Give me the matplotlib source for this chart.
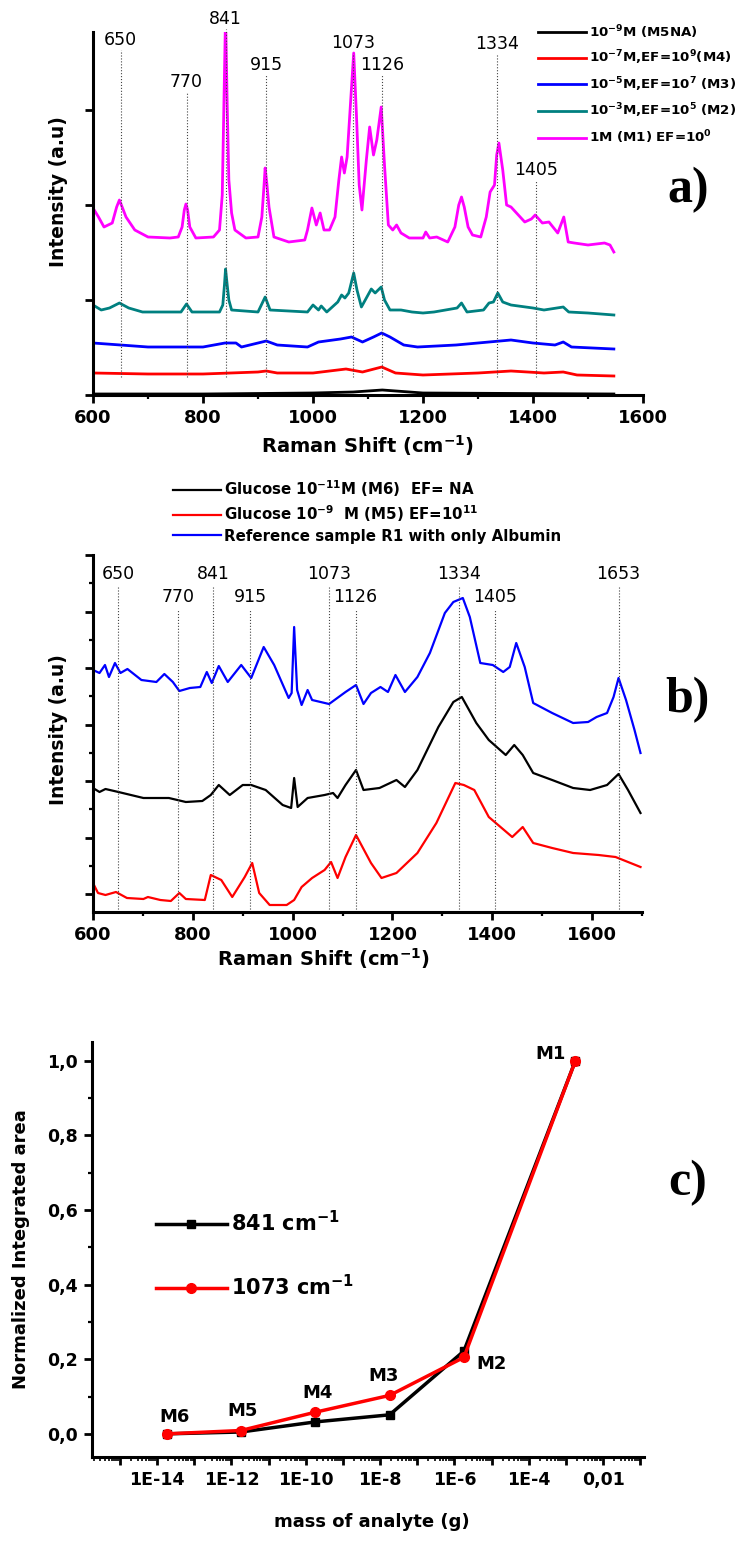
import numpy as np
import matplotlib
matplotlib.use("Agg")
import matplotlib.pyplot as plt
from matplotlib.ticker import MultipleLocator, LogLocator, FuncFormatter, NullFormatter

plt.rcParams["font.family"] = ["DejaVu Sans"]
plt.rcParams["mathtext.fontset"] = "dejavusans"
plt.rcParams["mathtext.default"] = "bf"

# ---------------- panel a) spectra (a.u.) ----------------
m1_shift = [600, 610, 620, 635, 643, 648, 653, 660, 676, 700, 740, 755, 762, 766, 769, 772, 776, 787, 819,
            830, 835, 838, 841, 844, 847, 852, 858, 878, 900, 907, 911, 913, 916, 920, 929, 956, 985, 990,
            998, 1006, 1013, 1020, 1030, 1040, 1047, 1052, 1057, 1062, 1068, 1074, 1079, 1084, 1089, 1097,
            1103, 1110, 1116, 1124, 1130, 1137, 1145, 1152, 1160, 1175, 1200, 1205, 1212, 1225, 1245, 1258,
            1265, 1270, 1275, 1282, 1290, 1305, 1315, 1322, 1330, 1334, 1338, 1345, 1352, 1360, 1370, 1385,
            1397, 1404, 1417, 1429, 1445, 1456, 1464, 1475, 1500, 1530, 1540, 1547]
m1_int = [187, 178, 168, 172, 188, 195, 188, 178, 165, 158, 157, 158, 168, 185, 191, 185, 168, 157, 158,
          165, 200, 290, 380, 290, 215, 182, 165, 157, 158, 178, 210, 227, 212, 188, 158, 153, 155, 165,
          187, 170, 182, 165, 165, 178, 215, 238, 222, 238, 290, 342, 280, 210, 185, 235,
          268, 240, 255, 288, 230, 170, 165, 170, 162, 157, 157, 163, 157, 158, 153, 168,
          190, 198, 188, 168, 160, 158, 178, 203, 210, 240, 252, 225, 190, 188, 182, 173,
          176, 180, 172, 173, 162, 178, 153, 152, 150, 152, 150, 143]

m2_shift = [600, 615, 630, 648, 665, 690, 760, 770, 780, 830, 836, 839, 841, 844, 847, 852, 900, 913, 922,
            990, 1000, 1010, 1015, 1025, 1045, 1052, 1058, 1065, 1074, 1080, 1088, 1100, 1106, 1113, 1124,
            1130, 1140, 1160, 1180, 1200, 1220, 1262, 1270, 1280, 1310, 1320, 1328, 1336, 1345, 1360, 1400,
            1420, 1455, 1465, 1500, 1547]
m2_int = [90, 85, 87, 92, 87, 83, 83, 91, 83, 83, 90, 110, 126, 110, 95, 85, 83, 98, 85,
          83, 90, 85, 89, 83, 93, 100, 97, 102, 122, 105, 88, 100, 106, 102, 108,
          95, 85, 85, 83, 82, 83, 87, 92, 83, 85, 92, 93, 102, 93, 90, 87,
          85, 88, 83, 82, 80]

m3_shift = [600, 650, 700, 800, 840, 860, 870, 900, 915, 935, 990, 1010, 1050, 1070, 1090, 1110, 1125,
            1140, 1165, 1190, 1260, 1320, 1360, 1400, 1440, 1455, 1470, 1547]
m3_int = [52, 50, 48, 48, 52, 52, 48, 52, 54, 50, 48, 53, 56, 58, 53, 58, 62,
          58, 50, 48, 50, 53, 55, 52, 50, 53, 48, 46]

m4_shift = [600, 700, 800, 900, 915, 935, 1000, 1060, 1090, 1125, 1150, 1200, 1300, 1360, 1420, 1455,
            1480, 1547]
m4_int = [22, 21, 21, 23, 24, 22, 22, 26, 23, 28, 22, 20, 22, 24, 22, 23, 20, 19]

m5_shift = [600, 800, 1000, 1073, 1126, 1200, 1547]
m5_int = [1, 1, 2, 3, 5, 2, 1]

legend_a = [r"10$^{-9}$M (M5NA)", r"10$^{-7}$M,EF=10$^{9}$(M4)", r"10$^{-5}$M,EF=10$^{7}$ (M3)",
            r"10$^{-3}$M,EF=10$^{5}$ (M2)", r"1M (M1) EF=10$^{0}$"]
peaks_a = [650, 770, 841, 915, 1073, 1126, 1334, 1405]
peaks_a_label_y = [355, 313, 376, 330, 352, 330, 351, 225]

# ---------------- panel b) spectra (a.u.) ----------------
r1_shift = [600, 613, 624, 632, 644, 655, 669, 697, 727, 743, 760, 773, 794, 815, 828, 838, 852, 870, 897,
            917, 942, 963, 992, 998, 1003, 1009, 1018, 1030, 1039, 1073, 1106, 1127, 1142, 1157, 1176, 1191,
            1206, 1225, 1250, 1275, 1305, 1322, 1341, 1355, 1376, 1401, 1422, 1435, 1448, 1465, 1482, 1520,
            1562, 1592, 1609, 1630, 1643, 1653, 1668, 1685, 1697]
r1_int = [224, 221, 229, 217, 231, 221, 225, 214, 212, 220, 212, 203, 206, 207, 222, 211, 228, 212, 229,
          216, 247, 229, 196, 201, 267, 204, 189, 204, 194, 190, 202, 209, 190, 201, 207, 202,
          219, 202, 217, 241, 281, 292, 296, 277, 231, 229, 222, 227, 251, 227, 191, 181,
          171, 172, 177, 181, 197, 216, 194, 164, 141]

m6_shift = [600, 613, 625, 651, 701, 752, 786, 819, 836, 852, 874, 900, 917, 946, 980, 997, 1003, 1010,
            1030, 1064, 1081, 1090, 1106, 1127, 1142, 1174, 1208, 1225, 1250, 1292, 1322, 1339, 1368, 1393,
            1427, 1444, 1461, 1482, 1520, 1562, 1596, 1630, 1653, 1672, 1697]
m6_int = [106, 102, 105, 102, 96, 96, 92, 93, 99, 109, 99, 109, 109, 104, 89, 86, 116, 87,
          96, 99, 101, 96, 109, 124, 104, 106, 114, 107, 124, 167, 192, 197, 171, 154,
          139, 149, 139, 121, 114, 106, 104, 109, 120, 104, 81]

m5b_shift = [600, 610, 625, 646, 668, 701, 710, 735, 756, 773, 786, 824, 836, 857, 879, 904, 919, 933, 954,
             988, 1003, 1018, 1039, 1064, 1077, 1090, 1106, 1127, 1157, 1178, 1208, 1250, 1288, 1326, 1343,
             1364, 1393, 1440, 1461, 1482, 1520, 1562, 1613, 1647, 1672, 1697]
m5b_int = [11, 1, -1, 2, -4, -5, -3, -6, -7, 1, -5, -6, 19, 14, -3, 17, 31, 1, -11,
           -11, -6, 7, 16, 24, 32, 16, 37, 59, 31, 16, 21, 41, 71, 111, 109,
           104, 77, 57, 67, 51, 46, 41, 39, 37, 32, 27]

legend_b = [r"Glucose 10$^{-11}$M (M6)  EF= NA", r"Glucose 10$^{-9}$  M (M5) EF=10$^{11}$",
            "Reference sample R1 with only Albumin"]
peaks_b = [650, 770, 841, 915, 1073, 1126, 1334, 1405, 1653]
peaks_b_label_y = [320, 297, 320, 297, 320, 297, 320, 297, 320]

# ---------------- panel c) integrated area ----------------
mass_g = [1.8e-14, 1.8e-12, 1.8e-10, 1.8e-8, 1.8e-6, 1.8e-3]
area_841 = [0.0, 0.005, 0.032, 0.051, 0.222, 1.0]
area_1073 = [0.0, 0.009, 0.058, 0.103, 0.205, 1.0]
sample_names = ["M6", "M5", "M4", "M3", "M2", "M1"]
name_offsets = [(6, 12), (1, 14), (2, 14), (-4, 14), (20, -5), (-18, 5)]

fig = plt.figure(figsize=(7.40, 15.41), dpi=100)


def style_axes(ax, lw=2.2, size=13):
    for s in ["top", "right"]:
        ax.spines[s].set_visible(False)
    for s in ["left", "bottom"]:
        ax.spines[s].set_linewidth(lw)
    ax.tick_params(which="major", direction="out", length=6, width=2, labelsize=size, pad=4)
    ax.tick_params(which="minor", direction="out", length=3, width=1.6)
    for lab in ax.get_xticklabels() + ax.get_yticklabels():
        lab.set_fontweight("bold")


# ---- a ----
axa = fig.add_axes([93 / 740, 1 - 395 / 1541, 550 / 740, 363 / 1541])
la5, = axa.plot(m5_shift, m5_int, color="black", lw=2)
la4, = axa.plot(m4_shift, m4_int, color="#ff0000", lw=2)
la3, = axa.plot(m3_shift, m3_int, color="#0000ff", lw=2)
la2, = axa.plot(m2_shift, m2_int, color="#008080", lw=2)
la1, = axa.plot(m1_shift, m1_int, color="#ff00ff", lw=2)
for p, ly in zip(peaks_a, peaks_a_label_y):
    axa.plot([p, p], [18, ly - 10], color="#444444", lw=0.8, ls=":", clip_on=False)
    axa.text(p, ly, str(p), ha="center", va="center", fontsize=12.5, clip_on=False)
axa.set_xlim(600, 1600)
axa.set_ylim(0, 363)
axa.xaxis.set_major_locator(MultipleLocator(200))
axa.xaxis.set_minor_locator(MultipleLocator(100))
axa.yaxis.set_major_locator(MultipleLocator(95))
axa.set_yticklabels([])
style_axes(axa)
axa.set_xlabel(r"Raman Shift (cm$^{-1}$)", fontsize=14, fontweight="bold")
axa.xaxis.set_label_coords(0.5, -0.105)
axa.set_ylabel("Intensity (a.u)", fontsize=13.5, fontweight="bold")
axa.yaxis.set_label_coords(-0.045, 0.56)
axa.legend([la5, la4, la3, la2, la1], legend_a, loc="upper left", bbox_to_anchor=(0.809, 1.025),
           frameon=False, prop={"weight": "bold", "size": 9.6}, handlelength=3.6, handletextpad=0.2,
           labelspacing=0.6, borderpad=0, borderaxespad=0)

# ---- b ----
axb = fig.add_axes([93 / 740, 1 - 912 / 1541, 549 / 740, 357 / 1541])
lb6, = axb.plot(m6_shift, m6_int, color="black", lw=1.6)
lb5, = axb.plot(m5b_shift, m5b_int, color="#ff0000", lw=1.6)
lbr, = axb.plot(r1_shift, r1_int, color="#0000ff", lw=1.6)
for p, ly in zip(peaks_b, peaks_b_label_y):
    axb.plot([p, p], [-18, ly - 12], color="#444444", lw=0.8, ls=":")
    axb.text(p, ly, str(p), ha="center", va="center", fontsize=12.5, clip_on=False)
axb.set_xlim(600, 1700)
axb.set_ylim(-18, 339)
axb.xaxis.set_major_locator(MultipleLocator(200))
axb.xaxis.set_minor_locator(MultipleLocator(100))
axb.yaxis.set_major_locator(MultipleLocator(56.5))
axb.yaxis.set_minor_locator(MultipleLocator(28.25))
axb.set_yticklabels([])
style_axes(axb)
axb.set_xlabel(r"Raman Shift (cm$^{-1}$)", fontsize=14, fontweight="bold")
axb.xaxis.set_label_coords(0.42, -0.095)
axb.set_ylabel("Intensity (a.u)", fontsize=13.5, fontweight="bold")
axb.yaxis.set_label_coords(-0.045, 0.51)
axb.legend([lb6, lb5, lbr], legend_b, loc="upper left", bbox_to_anchor=(0.146, 1.215),
           frameon=False, prop={"weight": "bold", "size": 10.8}, handlelength=3.2, handletextpad=0.2,
           labelspacing=0.3, borderpad=0, borderaxespad=0)

# ---- c ----
axc = fig.add_axes([92 / 740, 1 - 1457 / 1541, 552 / 740, 415 / 1541])
lc1, = axc.plot(mass_g, area_841, color="black", lw=2.5, marker="s", ms=6)
lc2, = axc.plot(mass_g, area_1073, color="#ff0000", lw=2.5, marker="o", ms=7)
for name, x, y, off in zip(sample_names, mass_g, area_1073, name_offsets):
    axc.annotate(name, (x, y), xytext=off, textcoords="offset points", ha="center", va="center",
                 fontsize=13, fontweight="bold")
axc.set_xscale("log")
axc.set_xlim(10 ** -15.75, 10 ** -0.9)
axc.set_ylim(-0.062, 1.05)
axc.xaxis.set_major_locator(LogLocator(base=10, numticks=40))
axc.xaxis.set_minor_locator(LogLocator(base=10, subs=np.arange(2, 10), numticks=40))
axc.xaxis.set_minor_formatter(NullFormatter())


def mass_fmt(v, pos):
    e = int(round(np.log10(v)))
    if e % 2:
        return ""
    if e == -2:
        return "0,01"
    return f"1E{e}"


axc.xaxis.set_major_formatter(FuncFormatter(mass_fmt))
axc.yaxis.set_major_locator(MultipleLocator(0.2))
axc.yaxis.set_minor_locator(MultipleLocator(0.1))
axc.yaxis.set_major_formatter(FuncFormatter(lambda v, p: f"{v:.1f}".replace(".", ",")))
style_axes(axc, size=12.5)
axc.tick_params(axis="x", which="minor", length=3, width=1.2)
axc.set_xlabel("mass of analyte (g)", fontsize=13, fontweight="bold")
axc.xaxis.set_label_coords(0.507, -0.135)
axc.set_ylabel("Normalized Integrated area", fontsize=13, fontweight="bold")
axc.yaxis.set_label_coords(-0.112, 0.5)
axc.legend([lc1, lc2], [r"841 cm$^{-1}$", r"1073 cm$^{-1}$"], loc="upper left",
           bbox_to_anchor=(0.116, 0.595), frameon=False, prop={"weight": "bold", "size": 15},
           handlelength=3.4, handletextpad=0.2, labelspacing=1.85, borderpad=0, borderaxespad=0)

for lab, fy in [("a)", 1 - 190 / 1541), ("b)", 1 - 700 / 1541), ("c)", 1 - 1183 / 1541)]:
    fig.text(688 / 740, fy, lab, fontsize=36, fontweight="bold", family="Liberation Serif",
             ha="center", va="center")

fig.savefig("out.png", dpi=100)
